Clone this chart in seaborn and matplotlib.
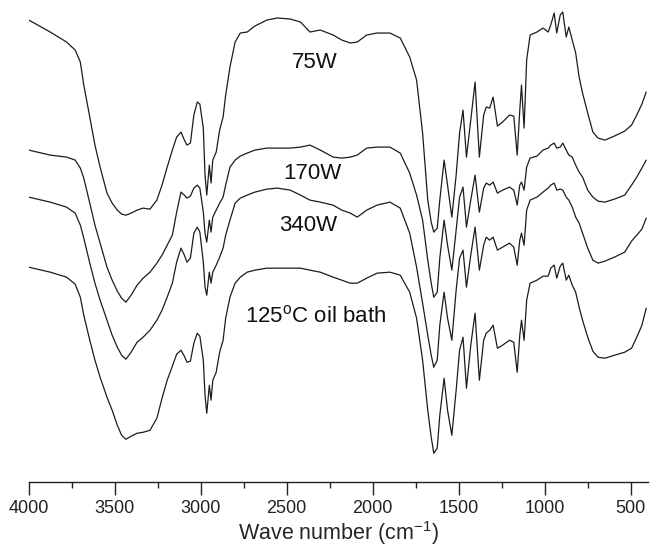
import matplotlib
matplotlib.use("Agg")
import matplotlib.pyplot as plt
from matplotlib.ticker import MultipleLocator
import pandas as pd
import seaborn as sns

# FTIR spectra, offset transmittance in arbitrary units
wavenumber = [
    4000, 3875, 3780, 3730, 3700, 3680, 3645, 3615, 3585, 3545,
    3515, 3485, 3460, 3435, 3405, 3370, 3335, 3295, 3255, 3225,
    3195, 3165, 3140, 3115, 3095, 3080, 3060, 3040, 3020, 3005,
    2985, 2975, 2965, 2950, 2940, 2930, 2910, 2890, 2870, 2855,
    2830, 2800, 2770, 2730, 2685, 2615, 2555, 2480, 2420, 2365,
    2305, 2230, 2180, 2130, 2090, 2035, 1975, 1900, 1840, 1785,
    1745, 1710, 1680, 1660, 1645, 1625, 1610, 1585, 1565, 1540,
    1515, 1495, 1475, 1455, 1430, 1405, 1380, 1355, 1340, 1320,
    1300, 1275, 1245, 1205, 1180, 1160, 1145, 1135, 1120, 1105,
    1085, 1045, 1010, 980, 965, 945, 930, 910, 895, 875,
    860, 840, 820, 800, 780, 750, 720, 690, 650, 595,
    535, 495, 465, 435, 410,
]

t_75w = [
    462, 450, 440, 432, 420, 397, 365, 337, 315, 289,
    279, 272, 268, 267, 269, 272, 274, 273, 282, 297,
    315, 332, 345, 350, 342, 337, 339, 367, 380, 378,
    354, 307, 287, 317, 299, 322, 330, 352, 365, 387,
    415, 440, 449, 450, 456, 462, 464, 463, 460, 450,
    452, 447, 442, 439, 440, 447, 449, 449, 444, 425,
    402, 349, 282, 260, 250, 254, 282, 322, 297, 265,
    307, 349, 372, 325, 362, 400, 325, 367, 375, 374,
    385, 356, 360, 367, 366, 327, 372, 397, 354, 422,
    447, 450, 454, 450, 457, 469, 449, 467, 470, 445,
    455, 442, 429, 405, 389, 369, 350, 344, 342, 346,
    351, 357, 367, 378, 390,
]

t_170w = [
    332, 327, 325, 322, 314, 304, 279, 257, 239, 215,
    202, 191, 184, 180, 187, 197, 204, 210, 219, 227,
    237, 247, 270, 290, 287, 284, 286, 294, 297, 294,
    270, 249, 240, 262, 250, 265, 272, 279, 285, 297,
    315, 322, 326, 329, 332, 334, 334, 334, 335, 337,
    332, 325, 324, 325, 327, 334, 335, 335, 329, 309,
    287, 262, 222, 199, 185, 190, 224, 262, 237, 212,
    252, 285, 295, 255, 282, 307, 270, 294, 299, 297,
    300, 289, 292, 295, 292, 277, 297, 300, 292, 315,
    324, 326, 332, 334, 337, 339, 334, 335, 339, 332,
    327, 325, 317, 310, 305, 292, 285, 281, 280, 283,
    287, 297, 305, 314, 322,
]

t_340w = [
    285, 280, 275, 269, 257, 244, 219, 199, 182, 162,
    147, 135, 127, 123, 130, 140, 145, 152, 162, 172,
    185, 199, 220, 234, 227, 220, 224, 249, 255, 250,
    220, 195, 187, 210, 199, 210, 217, 225, 234, 247,
    262, 279, 284, 287, 290, 293, 294, 292, 287, 282,
    280, 277, 272, 269, 265, 272, 277, 280, 274, 249,
    215, 179, 147, 127, 115, 122, 157, 190, 164, 142,
    192, 224, 232, 195, 227, 255, 212, 237, 245, 242,
    245, 232, 235, 239, 235, 217, 242, 249, 237, 272,
    282, 285, 290, 294, 297, 299, 292, 293, 292, 285,
    282, 275, 265, 259, 249, 234, 222, 219, 221, 225,
    230, 241, 247, 253, 264,
]

t_oil = [
    215, 210, 205, 198, 185, 167, 142, 122, 105, 85,
    72, 57, 47, 43, 46, 49, 50, 52, 64, 84,
    102, 116, 128, 132, 126, 120, 121, 139, 149, 146,
    122, 87, 69, 97, 82, 102, 110, 130, 142, 164,
    185, 199, 205, 210, 212, 214, 214, 214, 214, 212,
    210, 205, 202, 199, 199, 204, 209, 210, 207, 190,
    164, 122, 72, 45, 29, 34, 67, 104, 72, 47,
    92, 132, 145, 94, 137, 169, 102, 142, 149, 152,
    157, 134, 137, 142, 140, 110, 147, 162, 142, 182,
    199, 202, 206, 206, 214, 217, 204, 216, 219, 202,
    207, 197, 190, 175, 162, 145, 131, 125, 124, 127,
    130, 134, 145, 157, 174,
]

samples = ["75W", "170W", "340W", r"125$^{\mathregular{o}}$C oil bath"]
label_x = [2335, 2353, 2375, 2330]
label_y = [420, 309, 257, 166]

frames = []
for name, vals in zip(samples, [t_75w, t_170w, t_340w, t_oil]):
    frames.append(pd.DataFrame({"wavenumber": wavenumber, "T": vals, "sample": name}))
df = pd.concat(frames, ignore_index=True)

sns.set_theme(style="white")
plt.rcParams["font.family"] = ["Liberation Sans", "DejaVu Sans"]
plt.rcParams["mathtext.default"] = "regular"

fig = plt.figure(figsize=(6.5, 5.47), dpi=100)
ax = fig.add_axes([0.0442, 0.1183, 0.9526, 0.8817])

sns.lineplot(data=df, x="wavenumber", y="T", hue="sample", palette=["#1c1c1c"] * 4,
             sort=False, estimator=None, legend=False, linewidth=0.9, ax=ax)

for name, lx, ly in zip(samples, label_x, label_y):
    ax.text(lx, ly, name, fontsize=16, ha="center", va="center", color="#111111")

ax.set_xlim(4000, 400)
ax.set_ylim(0, 482)
ax.xaxis.set_major_locator(MultipleLocator(500))
ax.xaxis.set_minor_locator(MultipleLocator(250))
ax.tick_params(axis="x", which="major", direction="out", length=9, width=1,
               labelsize=13, pad=4, bottom=True, colors="#222222")
ax.tick_params(axis="x", which="minor", direction="out", length=4.5, width=1, bottom=True,
               colors="#222222")
ax.set_yticks([])
ax.set_ylabel("")
ax.set_xlabel(r"Wave number (cm$^{\mathregular{-1}}$)", fontsize=15.5, labelpad=1)
for side in ["left", "top", "right"]:
    ax.spines[side].set_visible(False)
ax.spines["bottom"].set_color("#222222")
ax.spines["bottom"].set_linewidth(1)

fig.savefig("out.png", dpi=100)
